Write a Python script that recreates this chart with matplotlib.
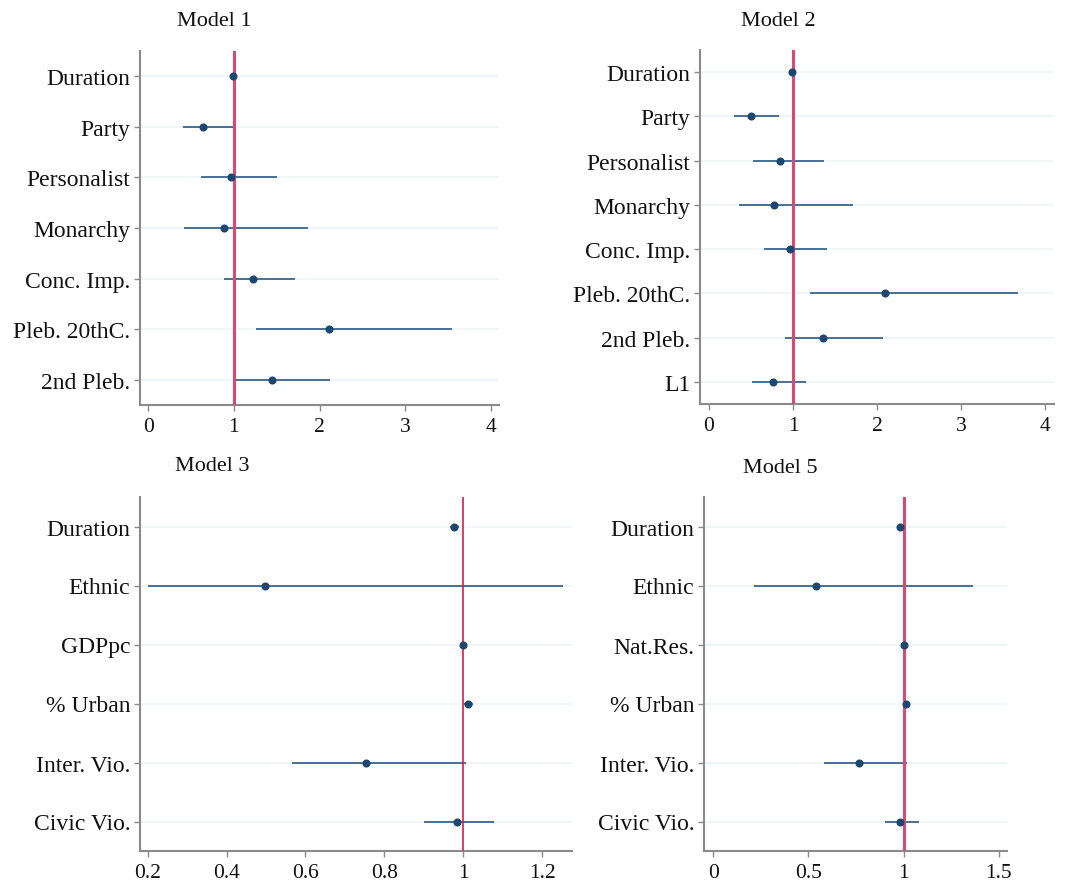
import matplotlib
matplotlib.use("Agg")
import matplotlib.pyplot as plt

plt.rcParams['font.family'] = ['Liberation Serif', 'DejaVu Serif']

# ---- data ----
m1_labels = ["Duration", "Party", "Personalist", "Monarchy", "Conc. Imp.", "Pleb. 20thC.", "2nd Pleb."]
m1_est = [0.99, 0.635, 0.966, 0.888, 1.227, 2.11, 1.445]
m1_lo = [0.975, 0.41, 0.62, 0.42, 0.888, 1.258, 0.986]
m1_hi = [1.005, 1.00, 1.50, 1.866, 1.714, 3.548, 2.12]

m2_labels = ["Duration", "Party", "Personalist", "Monarchy", "Conc. Imp.", "Pleb. 20thC.", "2nd Pleb.", "L1"]
m2_est = [0.99, 0.50, 0.848, 0.769, 0.959, 2.10, 1.36, 0.761]
m2_lo = [0.975, 0.30, 0.519, 0.353, 0.658, 1.197, 0.904, 0.507]
m2_hi = [1.005, 0.836, 1.375, 1.712, 1.399, 3.678, 2.069, 1.153]

m3_labels = ["Duration", "Ethnic", "GDPpc", "% Urban", "Inter. Vio.", "Civic Vio."]
m3_est = [0.978, 0.497, 0.999, 1.012, 0.754, 0.985]
m3_lo = [0.967, 0.202, 0.997, 1.002, 0.565, 0.900]
m3_hi = [0.989, 1.253, 1.001, 1.025, 1.008, 1.079]

m5_labels = ["Duration", "Ethnic", "Nat.Res.", "% Urban", "Inter. Vio.", "Civic Vio."]
m5_est = [0.979, 0.539, 1.0, 1.012, 0.767, 0.984]
m5_lo = [0.972, 0.212, 0.997, 1.006, 0.582, 0.900]
m5_hi = [0.986, 1.365, 1.003, 1.018, 1.018, 1.081]

titles = ["Model 1", "Model 2", "Model 3", "Model 5"]
ticks = [[0, 1, 2, 3, 4], [0, 1, 2, 3, 4], [0.2, 0.4, 0.6, 0.8, 1.0, 1.2], [0, 0.5, 1.0, 1.5]]
ticklabels = [["0", "1", "2", "3", "4"], ["0", "1", "2", "3", "4"],
              ["0.2", "0.4", "0.6", "0.8", "1", "1.2"], ["0", "0.5", "1", "1.5"]]

W, H = 1067, 887
fig = plt.figure(figsize=(W / 100, H / 100), dpi=100)

def px_axes(l, r, t, b):
    return fig.add_axes([l / W, 1 - b / H, (r - l) / W, (b - t) / H])

axes = [px_axes(140, 499, 52, 406), px_axes(700, 1054, 51, 405),
        px_axes(140, 572, 498, 852), px_axes(704, 1007, 498, 852)]
xlims = [(-0.097, 4.097), (-0.107, 4.107), (0.1805, 1.276), (-0.049, 1.544)]
data = [(m1_labels, m1_est, m1_lo, m1_hi), (m2_labels, m2_est, m2_lo, m2_hi),
        (m3_labels, m3_est, m3_lo, m3_hi), (m5_labels, m5_est, m5_lo, m5_hi)]
title_pos = [(214, 21), (778, 21), (212, 467), (780, 469)]
ref_style = [("#d84a72", 2.2), ("#d84a72", 2.2), ("#d0204e", 1.2), ("#d84a72", 2.2)]

navy = "#1c4770"
linec = "#3a6590"
gray = "#8a8a8a"

for ax, (labels, est, lo, hi), xl, tk, tl, tp, rs, ttl in zip(
        axes, data, xlims, ticks, ticklabels, title_pos, ref_style, titles):
    n = len(labels)
    y = list(range(n))
    ax.set_xlim(*xl)
    ax.set_ylim(n - 0.5, -0.5)
    for yi in y:
        ax.axhline(yi, color="#edf4f6", lw=1.2, zorder=0)
    ax.hlines(y, lo, hi, color=linec, lw=1.3, zorder=2)
    ax.axvline(1.0, color=rs[0], lw=rs[1], zorder=3)
    ax.plot(est, y, 'o', color=navy, ms=4.8, zorder=4)
    ax.set_yticks(y)
    ax.set_yticklabels(labels, fontsize=17)
    ax.set_xticks(tk)
    ax.set_xticklabels(tl, fontsize=15.5)
    for s in ["top", "right"]:
        ax.spines[s].set_visible(False)
    for s in ["left", "bottom"]:
        ax.spines[s].set_color(gray)
        ax.spines[s].set_linewidth(1.5)
    ax.tick_params(axis='both', colors=gray, length=4, width=1)
    ax.tick_params(axis='y', pad=3, labelcolor='#111111')
    ax.tick_params(axis='x', pad=5, labelcolor='#111111')
    fig.text(tp[0] / W, 1 - tp[1] / H, ttl, ha='center', va='center', fontsize=16, color='#111111')

fig.savefig("out.png", dpi=100)
